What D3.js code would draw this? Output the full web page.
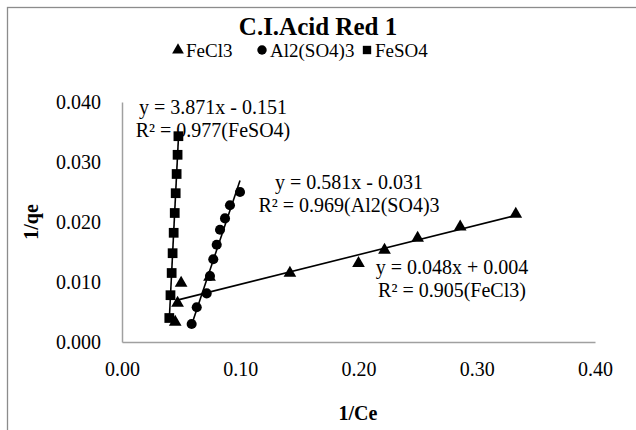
<!DOCTYPE html>
<html>
<head>
<meta charset="utf-8">
<script src="https://cdn.jsdelivr.net/npm/d3@7"></script>
<style>
  body { margin: 0; background: #fff; }
  svg text { font-family: "Liberation Serif", "Times New Roman", serif !important; }
</style>
</head>
<body>
<svg width="636" height="430"></svg>
<script>
// data
const seriesNames = ["FeCl3", "Al2(SO4)3", "FeSO4"];

const fecl3X = [0.045, 0.047, 0.050, 0.074, 0.142, 0.200, 0.222, 0.250, 0.286, 0.333];
const fecl3Y = [0.0033, 0.0065, 0.0098, 0.0108, 0.0115, 0.0131, 0.0153, 0.0173, 0.0192, 0.0213];

const alX = [0.0998, 0.0913, 0.0871, 0.0829, 0.0801, 0.0772, 0.0744, 0.0716, 0.0632, 0.0589];
const alY = [0.0250, 0.0228, 0.0206, 0.0187, 0.0162, 0.0138, 0.0110, 0.0081, 0.0058, 0.0030];

const feso4X = [0.0477, 0.0470, 0.0462, 0.0454, 0.0446, 0.0437, 0.0428, 0.0420, 0.0410, 0.0400];
const feso4Y = [0.0343, 0.0312, 0.0280, 0.0248, 0.0215, 0.0182, 0.0148, 0.0115, 0.0078, 0.0040];

const xTicks = [0, 0.1, 0.2, 0.3, 0.4];
const yTicks = [0, 0.01, 0.02, 0.03, 0.04];

const eqLabels = [
    ["y = 0.048x + 0.004", "R² = 0.905(FeCl3)"],
    ["y = 0.581x - 0.031", "R² = 0.969(Al2(SO4)3"],
    ["y = 3.871x - 0.151", "R² = 0.977(FeSO4)"]
];

const margin = { top: 102, right: 41, bottom: 88, left: 122 };
const width = 636 - margin.left - margin.right;
const height = 430 - margin.top - margin.bottom;

const svg = d3.select("svg");

// chart frame (runs off the right and bottom edge)
svg.append("rect")
    .attr("x", 7.5).attr("y", 7.5)
    .attr("width", 700).attr("height", 500)
    .attr("fill", "none")
    .attr("stroke", "#8c8c8c")
    .attr("stroke-width", 1.3);

const g = svg.append("g")
    .attr("transform", `translate(${margin.left}, ${margin.top})`);

const x = d3.scaleLinear().domain([0, 0.4]).range([0, width]);
const y = d3.scaleLinear().domain([0, 0.04]).range([height, 0]);

// axes: grey line, no tick marks
const xAxis = g.append("g")
    .attr("transform", `translate(0, ${height})`)
    .call(d3.axisBottom(x).tickValues(xTicks).tickSize(0).tickPadding(20).tickFormat(d3.format(".2f")));
const yAxis = g.append("g")
    .call(d3.axisLeft(y).tickValues(yTicks).tickSize(0).tickPadding(21).tickFormat(d3.format(".3f")));

[xAxis, yAxis].forEach(a => {
    a.attr("font-family", null);
    a.select(".domain").attr("stroke", "#a0a0a0").attr("stroke-width", 1.5);
    a.selectAll("text")
        .attr("font-size", 20)
        .attr("fill", "#000");
});

const series = [
    { name: seriesNames[0], xs: fecl3X, ys: fecl3Y, symbol: d3.symbolTriangle, size: 70 },
    { name: seriesNames[1], xs: alX, ys: alY, symbol: d3.symbolCircle, size: 80 },
    { name: seriesNames[2], xs: feso4X, ys: feso4Y, symbol: d3.symbolSquare, size: 95 }
];

// linear trendlines, least squares over each series' x range
series.forEach(s => {
    const mx = d3.mean(s.xs), my = d3.mean(s.ys);
    const b = d3.sum(s.xs, (v, i) => (v - mx) * (s.ys[i] - my)) / d3.sum(s.xs, v => (v - mx) * (v - mx));
    const a = my - b * mx;
    const ext = d3.extent(s.xs);
    g.append("line")
        .attr("x1", x(ext[0])).attr("y1", y(a + b * ext[0]))
        .attr("x2", x(ext[1])).attr("y2", y(a + b * ext[1]))
        .attr("stroke", "#000")
        .attr("stroke-width", 1.6);
});

series.forEach(s => {
    g.append("g")
        .selectAll("path")
        .data(s.xs.map((v, i) => [v, s.ys[i]]))
        .enter().append("path")
        .attr("transform", d => `translate(${x(d[0])}, ${y(d[1])})`)
        .attr("d", d3.symbol().type(s.symbol).size(s.size))
        .attr("fill", "#000");
});

// regression labels
const labelPos = [
    { cx: 452, cy: 267 },
    { cx: 349, cy: 182 },
    { cx: 213, cy: 107 }
];
eqLabels.forEach((lines, i) => {
    const t = svg.append("text")
        .attr("text-anchor", "middle")
        .attr("font-size", 20)
        .attr("fill", "#000");
    lines.forEach((line, j) => {
        t.append("tspan")
            .attr("x", labelPos[i].cx)
            .attr("y", labelPos[i].cy + j * 23)
            .attr("dy", "0.35em")
            .text(line);
    });
});

// title
svg.append("text")
    .attr("x", 318).attr("y", 26)
    .attr("dy", "0.35em")
    .attr("text-anchor", "middle")
    .attr("font-size", 25)
    .attr("font-weight", "bold")
    .text("C.I.Acid Red 1");

// legend
const legendItems = [
    { name: seriesNames[0], symbol: d3.symbolTriangle, size: 60, x: 178 },
    { name: seriesNames[1], symbol: d3.symbolCircle, size: 70, x: 262 },
    { name: seriesNames[2], symbol: d3.symbolSquare, size: 70, x: 367 }
];
const legend = svg.append("g");
legendItems.forEach(it => {
    legend.append("path")
        .attr("transform", `translate(${it.x}, 50)`)
        .attr("d", d3.symbol().type(it.symbol).size(it.size))
        .attr("fill", "#000");
    legend.append("text")
        .attr("x", it.x + 8).attr("y", 50)
        .attr("dy", "0.35em")
        .attr("font-size", 19)
        .text(it.name);
});

// axis titles
svg.append("text")
    .attr("x", 358).attr("y", 413)
    .attr("dy", "0.35em")
    .attr("text-anchor", "middle")
    .attr("font-size", 20)
    .attr("font-weight", "bold")
    .text("1/Ce");

svg.append("text")
    .attr("transform", "translate(31, 222) rotate(-90)")
    .attr("dy", "0.35em")
    .attr("text-anchor", "middle")
    .attr("font-size", 20)
    .attr("font-weight", "bold")
    .text("1/qe");
</script>
</body>
</html>
